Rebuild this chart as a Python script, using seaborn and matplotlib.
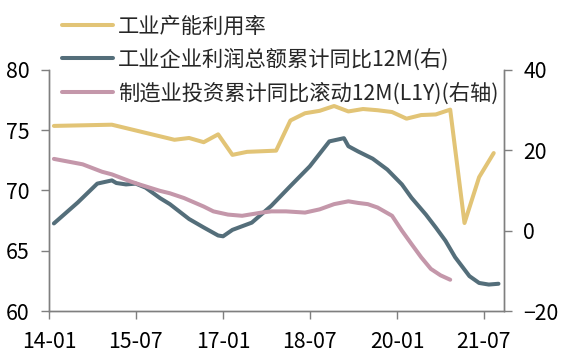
import pandas as pd
import seaborn as sns
import matplotlib.pyplot as plt
import matplotlib.dates as mdates

# 工业产能利用率 (左轴)
cap_dates = ["2014-02", "2015-02", "2016-03", "2016-06", "2016-09", "2016-12",
             "2017-03", "2017-06", "2017-09", "2017-12", "2018-03", "2018-06",
             "2018-09", "2018-12", "2019-03", "2019-06", "2019-09", "2019-12",
             "2020-03", "2020-06", "2020-09", "2020-12", "2021-03", "2021-06",
             "2021-09"]
cap_vals = [75.35, 75.45, 74.2, 74.35, 74.0, 74.65, 72.95, 73.2, 73.25, 73.3,
            75.8, 76.4, 76.6, 77.0, 76.55, 76.75, 76.65, 76.5, 75.95, 76.25,
            76.3, 76.7, 67.3, 71.1, 73.1]

# 工业企业利润总额累计同比12M (右轴)
profit_dates = ["2014-02", "2014-07", "2014-11", "2015-02", "2015-03", "2015-05",
                "2015-07", "2015-09", "2015-12", "2016-02", "2016-06", "2016-09",
                "2016-12", "2017-01", "2017-03", "2017-07", "2017-11", "2018-03",
                "2018-07", "2018-11", "2019-02", "2019-03", "2019-05", "2019-08",
                "2019-11", "2020-02", "2020-04", "2020-07", "2020-09", "2020-11",
                "2021-01", "2021-04", "2021-06", "2021-08", "2021-10"]
profit_vals = [1.8, 7.0, 11.7, 12.5, 11.85, 11.5, 11.7, 10.7, 8.1, 6.6, 2.9, 0.8,
               -1.2, -1.4, 0.2, 2.0, 6.2, 11.1, 16.0, 22.2, 23.0, 21.0, 19.7, 17.9,
               15.2, 11.5, 8.2, 4.0, 0.8, -2.5, -6.6, -11.3, -13.0, -13.4, -13.2]

# 制造业投资累计同比滚动12M(L1Y) (右轴)
inv_dates = ["2014-02", "2014-08", "2014-12", "2015-02", "2015-06", "2015-08",
             "2015-12", "2016-02", "2016-05", "2016-09", "2016-11", "2017-02",
             "2017-05", "2017-09", "2017-11", "2018-02", "2018-06", "2018-09",
             "2018-12", "2019-03", "2019-05", "2019-07", "2019-09", "2019-12",
             "2020-02", "2020-04", "2020-06", "2020-08", "2020-10", "2020-12"]
inv_vals = [17.85, 16.5, 14.65, 14.0, 12.2, 11.4, 9.9, 9.3, 8.1, 6.0, 4.8, 4.0,
            3.7, 4.5, 4.8, 4.8, 4.5, 5.3, 6.6, 7.3, 6.9, 6.6, 5.75, 3.7, 0.0,
            -3.3, -6.6, -9.5, -11.1, -12.2]

labels = ["工业产能利用率", "工业企业利润总额累计同比12M(右)", "制造业投资累计同比滚动12M(L1Y)(右轴)"]
colors = ["#E2C476", "#546E7A", "#C497AA"]
tick_dates = ["2014-01", "2015-07", "2017-01", "2018-07", "2020-01", "2021-07"]

cap = pd.DataFrame({"date": pd.to_datetime(cap_dates), "v": cap_vals})
profit = pd.DataFrame({"date": pd.to_datetime(profit_dates), "v": profit_vals})
inv = pd.DataFrame({"date": pd.to_datetime(inv_dates), "v": inv_vals})

sns.set_style("white")
plt.rcParams["font.family"] = ["Noto Sans CJK SC", "DejaVu Sans"]

fig, ax = plt.subplots(figsize=(5.63, 3.58), dpi=100)
fig.subplots_adjust(left=0.087, right=0.895, bottom=0.131, top=0.805)
ax2 = ax.twinx()

lw = 2.9
sns.lineplot(data=cap, x="date", y="v", ax=ax, color=colors[0], lw=lw, label=labels[0], legend=False)
sns.lineplot(data=profit, x="date", y="v", ax=ax2, color=colors[1], lw=lw, label=labels[1], legend=False)
sns.lineplot(data=inv, x="date", y="v", ax=ax2, color=colors[2], lw=lw, label=labels[2], legend=False)

ax.set_xlim(pd.Timestamp("2014-01-01"), pd.Timestamp("2021-11-04"))
ax.set_ylim(60, 80)
ax.set_yticks([60, 65, 70, 75, 80])
ax2.set_ylim(-20, 40)
ax2.set_yticks([-20, 0, 20, 40])
ax.set_xticks(pd.to_datetime(tick_dates))
ax.xaxis.set_major_formatter(mdates.DateFormatter("%y-%m"))
ax.set_xlabel("")
ax.set_ylabel("")
ax2.set_ylabel("")

spine_c = "#7F7F7F"
fs = 15.3
for a in (ax, ax2):
    for s in a.spines.values():
        s.set_color(spine_c)
        s.set_linewidth(1.0)
    a.spines["top"].set_visible(False)
ax.tick_params(axis="both", which="major", labelsize=fs, colors=spine_c,
               labelcolor="black", length=6, width=1.0, direction="out")
ax.tick_params(axis="y", pad=8, left=True)
ax.tick_params(axis="x", pad=8, bottom=True)
ax2.tick_params(axis="y", labelsize=fs, colors=spine_c, labelcolor="black",
                length=6, width=1.0, direction="out", pad=8, right=True)

h1, l1 = ax.get_legend_handles_labels()
h2, l2 = ax2.get_legend_handles_labels()
fig.legend(h1 + h2, l1 + l2, loc="upper left", bbox_to_anchor=(0.1096, 0.9575),
           frameon=False, fontsize=fs, handlelength=2.4, handletextpad=0.24,
           borderpad=0, borderaxespad=0, labelspacing=0.54)

fig.savefig("out.png", dpi=100)
